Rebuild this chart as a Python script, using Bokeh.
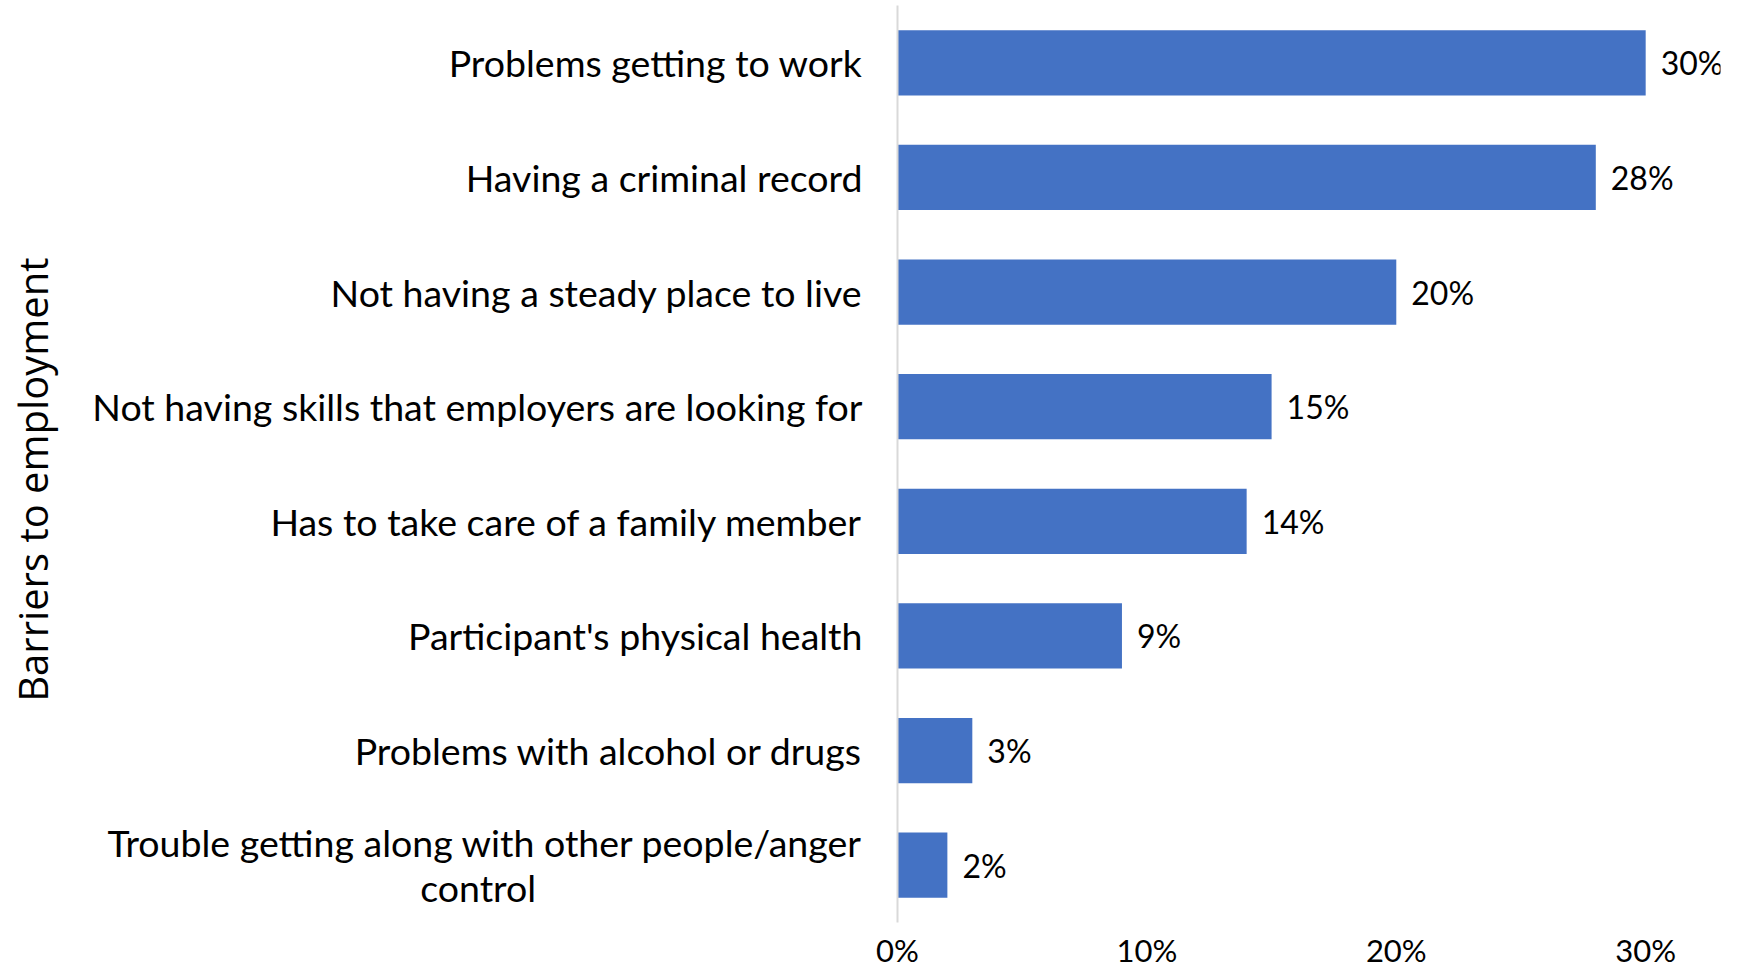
from bokeh.plotting import figure
from bokeh.models import FactorRange, ColumnDataSource, FixedTicker, NumeralTickFormatter
from bokeh.core.properties import value
from bokeh.embed import file_html
from bokeh.resources import INLINE

NBSP = "\u00a0"
categories = [
    "Problems getting to work",
    "Having a criminal record",
    "Not having a steady place to live",
    "Not having skills that employers are looking for",
    "Has to take care of a family member",
    "Participant's physical health",
    "Problems with alcohol or drugs",
    "Trouble getting along with other people/anger\ncontrol" + NBSP * 34,
]
values = [0.30, 0.28, 0.20, 0.15, 0.14, 0.09, 0.03, 0.02]
value_labels = ["30%", "28%", "20%", "15%", "14%", "9%", "3%", "2%"]
x_ticks = [0, 0.1, 0.2, 0.3]

src = ColumnDataSource(dict(cat=categories, val=values, lab=value_labels))

p = figure(
    width=1740, height=977,
    y_range=FactorRange(factors=categories[::-1], range_padding=0),
    x_range=(0, 0.33),
    output_backend="svg", toolbar_location=None,
    min_border_left=897, min_border_right=20, min_border_top=5, min_border_bottom=55,
)
p.outline_line_color = None
p.grid.grid_line_color = None
p.background_fill_color = "white"
p.border_fill_color = "white"

p.hbar(y="cat", right="val", left=0, height=0.57, source=src, color="#4472C4", line_color=None)
p.text(x="val", y="cat", text="lab", source=src, x_offset=15,
       text_baseline="middle", text_align="left", text_font=value("Lato"),
       text_font_size="32px", text_color="#000000")

xa = p.xaxis[0]
xa.ticker = FixedTicker(ticks=x_ticks)
xa.formatter = NumeralTickFormatter(format="0%")
xa.axis_line_color = None
xa.major_tick_line_color = None
xa.minor_tick_line_color = None
xa.major_tick_out = 0
xa.major_label_standoff = 8
xa.major_label_text_font = "Lato"
xa.major_label_text_font_size = "31px"
xa.major_label_text_color = "#000000"

ya = p.yaxis[0]
ya.axis_line_color = "#d9d9d9"
ya.axis_line_width = 2
ya.major_tick_line_color = None
ya.minor_tick_line_color = None
ya.major_tick_out = 0
ya.major_label_standoff = 35
ya.major_label_text_line_height = 1.0
ya.major_label_text_font = "Lato"
ya.major_label_text_font_size = "37.5px"
ya.major_label_text_color = "#000000"
ya.axis_label = "Barriers to employment" + NBSP * 3
ya.axis_label_text_font = "Open Sans"
ya.axis_label_text_font_style = "normal"
ya.axis_label_text_font_size = "40px"
ya.axis_label_text_color = "#000000"
ya.axis_label_standoff = 29

open("out.html", "w").write(file_html(p, INLINE))
